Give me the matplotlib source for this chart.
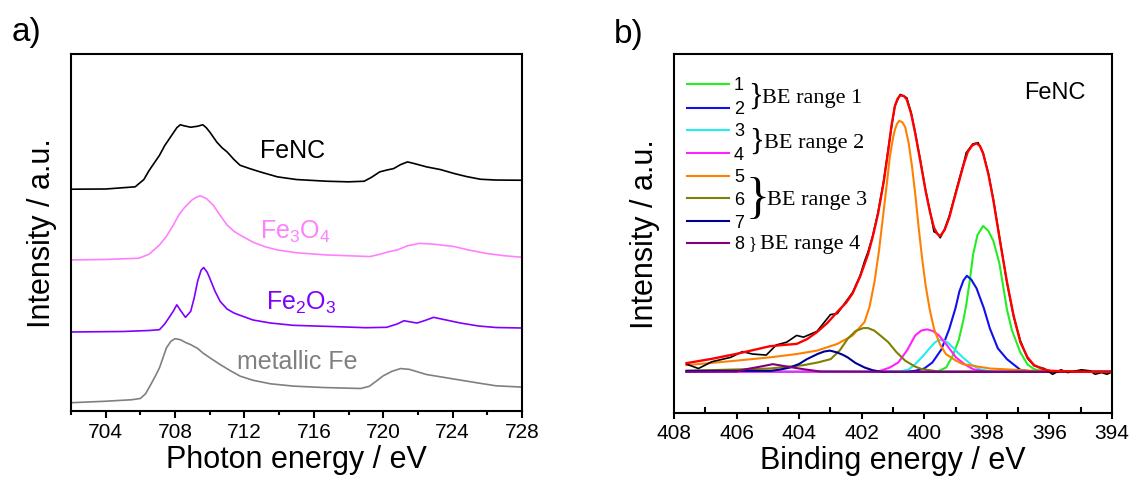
import matplotlib
matplotlib.use('Agg')
import matplotlib.pyplot as plt
from matplotlib.ticker import MultipleLocator

plt.rcParams['font.family'] = ['Liberation Sans', 'DejaVu Sans']
plt.rcParams['mathtext.fontset'] = 'custom'
plt.rcParams['mathtext.rm'] = 'Liberation Sans'

W, H = 1137, 481

# ---------------- panel a data (Fe L-edge spectra, offset stacked) ----------------
fenc_e = [702.0, 704.0, 705.7, 706.2, 706.5, 707.1, 707.4, 707.8, 708.1, 708.3, 708.5, 708.9,
          709.3, 709.6, 709.8, 710.0, 710.4, 710.7, 711.0, 711.4, 711.75, 712.3, 712.9, 713.9,
          715.0, 716.75, 718.0, 718.9, 719.3, 719.8, 720.2, 720.6, 721.0, 721.4, 721.8, 722.5,
          723.3, 724.1, 724.8, 725.6, 726.5, 728.0]
fenc_i = [219.3, 219.5, 221.7, 229.0, 238.0, 253.3, 263.0, 273.3, 281.0, 284.0, 283.0, 281.5,
          282.5, 284.0, 281.0, 276.7, 266.7, 261.0, 256.7, 249.0, 243.3, 240.0, 236.7, 231.7,
          229.0, 227.3, 226.7, 227.3, 231.0, 236.7, 238.5, 240.0, 244.0, 246.7, 245.0, 241.7,
          239.0, 235.0, 232.0, 229.3, 228.5, 228.3]

fe3o4_e = [702.0, 704.0, 705.9, 706.5, 707.1, 707.5, 707.9, 708.2, 708.5, 708.96, 709.2, 709.45,
           709.8, 710.2, 710.6, 711.0, 711.4, 711.75, 712.5, 713.2, 713.9, 715.0, 716.75, 718.0,
           719.25, 719.8, 720.3, 720.8, 721.4, 722.1, 723.0, 724.1, 725.0, 726.0, 727.0, 728.0]
fe3o4_i = [148.3, 148.8, 150.0, 154.0, 163.3, 172.0, 183.3, 193.0, 200.0, 208.3, 211.0, 212.7,
           210.0, 203.3, 193.0, 183.3, 177.0, 173.3, 166.0, 161.5, 158.3, 155.5, 153.3, 152.5,
           151.7, 154.0, 156.5, 158.3, 162.5, 165.0, 164.0, 161.7, 158.0, 154.7, 152.5, 151.0]

fe2o3_e = [702.0, 705.0, 706.5, 707.1, 707.4, 707.7, 707.9, 708.1, 708.3, 708.6, 708.9, 709.1,
           709.3, 709.5, 709.65, 709.85, 710.0, 710.3, 710.6, 711.0, 711.4, 711.75, 712.5, 713.5,
           714.8, 717.0, 719.0, 720.2, 720.8, 721.2, 721.6, 721.95, 722.4, 722.9, 723.5, 724.45,
           725.5, 726.5, 728.0]
fe2o3_i = [76.0, 76.5, 77.5, 78.3, 84.0, 91.7, 97.0, 103.3, 98.0, 90.7, 96.7, 110.0,
           127.0, 138.0, 140.7, 136.0, 130.0, 117.0, 106.7, 99.0, 95.0, 92.7, 88.0, 85.0,
           82.7, 81.5, 80.3, 80.7, 84.0, 87.3, 86.0, 85.0, 87.5, 90.7, 88.5, 85.0,
           82.0, 80.5, 80.0]

fe_e = [702.0, 704.0, 705.5, 706.0, 706.3, 706.6, 706.9, 707.1, 707.3, 707.5, 707.75, 708.0,
        708.3, 708.6, 708.9, 709.3, 709.6, 710.1, 710.6, 711.2, 711.75, 712.5, 713.5, 714.8,
        716.5, 718.2, 718.7, 719.2, 719.6, 720.0, 720.5, 721.0, 721.5, 722.5, 724.0, 725.4,
        726.5, 728.0]
fe_i = [5.0, 6.5, 8.0, 9.3, 14.0, 23.3, 33.0, 40.0, 50.0, 60.0, 66.5, 69.3,
        68.3, 65.5, 63.3, 59.5, 55.0, 49.0, 43.3, 37.0, 31.7, 27.5, 24.0, 21.7,
        20.3, 19.5, 19.3, 21.5, 26.7, 32.0, 36.5, 39.3, 38.5, 33.3, 29.0, 25.0,
        22.0, 20.7]

# ---------------- panel b data (N 1s XPS of FeNC) ----------------
raw_e = [407.6, 407.22, 406.79, 406.19, 405.81, 405.49, 405.05, 404.73, 404.4, 404.08, 403.86,
         403.43, 403.0, 402.78, 402.29, 402.05, 401.91, 401.8, 401.65, 401.48, 401.3, 401.15,
         400.94, 400.77, 400.56, 400.42, 400.29, 400.12, 399.96, 399.82, 399.69, 399.58, 399.49,
         399.35, 399.2, 399.05, 398.88, 398.74, 398.66, 398.45, 398.28, 398.12, 397.95, 397.79,
         397.58, 397.36, 397.15, 396.93, 396.7, 396.49, 396.17, 395.9, 395.63, 395.41, 394.98,
         394.7, 394.54, 394.33, 394.16, 394.0]
raw_i = [48.3, 44.0, 50.7, 55.0, 60.7, 58.3, 57.3, 67.3, 70.0, 76.7, 75.0,
         80.7, 97.3, 98.3, 119.3, 136.0, 150.0, 159.3, 175.0, 198.3, 229.0, 261.7,
         304.0, 315.0, 311.7, 297.0, 277.3, 249.0, 220.7, 200.0, 179.3, 177.5, 173.3,
         182.0, 195.0, 212.0, 231.7, 247.0, 257.3, 266.0, 267.3, 257.3, 237.0, 210.7,
         171.0, 129.3, 96.0, 71.7, 54.0, 46.7, 44.0, 38.3, 42.7, 40.0, 42.7,
         41.7, 38.3, 40.0, 38.3, 40.7]

fit_e = [407.6, 406.8, 406.03, 405.5, 404.94, 404.5, 404.08, 403.75, 403.43, 403.1, 402.78,
         402.5, 402.29, 402.05, 401.8, 401.65, 401.48, 401.3, 401.15, 401.05, 400.94, 400.85,
         400.77, 400.65, 400.56, 400.42, 400.29, 400.12, 399.96, 399.82, 399.69, 399.58, 399.49,
         399.35, 399.2, 399.05, 398.88, 398.74, 398.61, 398.47, 398.33, 398.22, 398.12, 397.95,
         397.79, 397.58, 397.36, 397.15, 396.93, 396.7, 396.49, 396.2, 395.95, 395.0, 394.0]
fit_i = [49.3, 53.5, 58.3, 62.0, 66.0, 67.3, 68.3, 73.0, 80.0, 89.0, 100.0,
         109.0, 118.3, 135.0, 156.7, 174.0, 196.7, 228.0, 260.0, 284.0, 303.3, 311.0,
         314.0, 313.5, 310.0, 296.0, 276.7, 248.0, 220.0, 199.0, 183.3, 177.0, 175.0,
         181.0, 193.3, 211.0, 230.0, 246.0, 258.3, 264.5, 266.7, 264.0, 256.7, 236.0,
         210.0, 170.0, 130.0, 97.0, 70.0, 55.0, 47.3, 43.3, 41.7, 40.8, 40.7]

c1_e = [407.6, 399.6, 399.3, 399.09, 398.9, 398.75, 398.66, 398.55, 398.44, 398.3, 398.12,
        397.95, 397.79, 397.6, 397.45, 397.36, 397.2, 396.93, 396.7, 396.49, 396.06, 394.0]
c1_i = [40.7, 40.7, 45.0, 56.7, 72.0, 92.0, 106.7, 130.0, 156.7, 176.0, 185.0,
        180.0, 170.0, 148.0, 120.0, 102.7, 82.0, 60.0, 48.0, 43.3, 40.7, 40.7]

c2_e = [407.6, 400.6, 400.29, 400.0, 399.74, 399.45, 399.2, 399.0, 398.88, 398.75, 398.64,
        398.5, 398.33, 398.1, 397.9, 397.65, 397.36, 396.93, 396.49, 394.0]
c2_i = [40.7, 40.7, 41.7, 44.0, 50.0, 63.0, 83.3, 104.0, 120.0, 131.0, 135.7,
        132.0, 123.3, 104.0, 83.3, 64.0, 53.3, 42.7, 40.7, 40.7]

c3_e = [407.6, 400.83, 400.5, 400.29, 400.05, 399.85, 399.65, 399.53, 399.35, 399.2, 399.0,
        398.77, 398.5, 398.23, 397.9, 397.68, 394.0]
c3_i = [40.7, 40.7, 43.0, 48.3, 56.0, 63.3, 70.0, 72.3, 71.5, 68.3, 62.0,
        55.0, 48.0, 43.3, 41.2, 40.7, 40.7]

c4_e = [407.6, 401.5, 401.1, 400.83, 400.55, 400.29, 400.1, 399.91, 399.72, 399.53, 399.25,
        398.99, 398.7, 398.44, 398.1, 397.9, 394.0]
c4_i = [40.7, 40.7, 45.0, 50.0, 62.0, 76.7, 81.5, 82.7, 81.0, 76.7, 66.0,
        55.0, 48.0, 43.3, 41.3, 40.7, 40.7]

c5_e = [407.6, 406.03, 404.94, 404.08, 403.43, 402.78, 402.29, 401.91, 401.75, 401.59, 401.45,
        401.31, 401.2, 401.1, 401.0, 400.94, 400.87, 400.8, 400.7, 400.61, 400.5, 400.39,
        400.28, 400.18, 400.07, 399.96, 399.83, 399.69, 399.5, 399.31, 399.0, 398.77, 397.9,
        396.49, 394.0]
c5_i = [47.3, 51.7, 55.0, 58.3, 61.7, 68.3, 76.7, 90.0, 105.0, 130.0, 160.0,
        196.7, 226.0, 253.3, 272.0, 280.0, 286.0, 289.0, 287.5, 282.7, 267.0, 243.3,
        214.0, 183.3, 153.0, 126.7, 103.0, 83.3, 68.0, 58.3, 52.0, 48.3, 44.0,
        41.7, 40.7]

c6_e = [407.6, 404.94, 403.86, 403.4, 402.99, 402.7, 402.45, 402.2, 401.95, 401.8, 401.6,
        401.38, 401.15, 400.9, 400.61, 400.3, 400.07, 399.53, 394.0]
c6_i = [41.7, 44.0, 47.3, 50.0, 53.3, 62.0, 73.3, 81.0, 84.0, 84.0, 81.5,
        76.0, 70.0, 60.5, 51.7, 46.0, 43.3, 41.0, 40.7]

c7_e = [407.6, 404.9, 404.6, 404.29, 404.0, 403.75, 403.4, 403.2, 403.02, 402.8, 402.6,
        402.45, 402.2, 401.91, 401.65, 401.37, 394.0]
c7_i = [41.7, 41.7, 43.0, 45.0, 48.5, 53.3, 58.5, 60.8, 61.7, 60.0, 57.5,
        55.0, 49.5, 45.0, 42.3, 40.7, 40.7]

c8_e = [407.6, 406.0, 405.7, 405.27, 404.84, 404.4, 403.86, 403.32, 400.0, 394.0]
c8_i = [40.7, 41.0, 43.3, 45.7, 48.3, 46.0, 43.3, 41.0, 40.7, 40.7]

comp_names = ['1', '2', '3', '4', '5', '6', '7', '8']
comp_colors = ['#22ee22', '#1010ee', '#22eeee', '#ff22ff', '#ff8000', '#808000', '#000090', '#800080']
comp_e = [c1_e, c2_e, c3_e, c4_e, c5_e, c6_e, c7_e, c8_e]
comp_i = [c1_i, c2_i, c3_i, c4_i, c5_i, c6_i, c7_i, c8_i]
range_labels = ['BE range 1', 'BE range 2', 'BE range 3', 'BE range 4']


def fx(px):
    return px / W


def fy(py):
    return 1 - py / H


fig = plt.figure(figsize=(W / 100, H / 100), dpi=100)

# ---------------- panel a ----------------
axa = fig.add_axes([fx(71), fy(412), fx(522) - fx(71), fy(55) - fy(412)])
axa.plot(fenc_e, fenc_i, color='black', lw=1.2)
axa.plot(fe3o4_e, fe3o4_i, color='#ff80ff', lw=1.2)
axa.plot(fe2o3_e, fe2o3_i, color='#8000ff', lw=1.2)
axa.plot(fe_e, fe_i, color='#808080', lw=1.2)
axa.set_xlim(702, 728)
axa.set_ylim(-3.3, 355)
axa.set_yticks([])
axa.xaxis.set_major_locator(MultipleLocator(4))
axa.xaxis.set_minor_locator(MultipleLocator(2))
axa.tick_params(axis='x', which='major', direction='out', length=5, width=1.5, labelsize=15, pad=3)
axa.tick_params(axis='x', which='minor', direction='out', length=3, width=1.5)
for s in axa.spines.values():
    s.set_linewidth(1.5)
axa.set_xlabel('Photon energy / eV', fontsize=22, labelpad=2)
axa.set_ylabel('Intensity / a.u.', fontsize=22, labelpad=10)

fig.text(fx(293), fy(151), 'FeNC', fontsize=18, color='black', ha='center', va='center')
fig.text(fx(295), fy(232), r'Fe$_\mathregular{3}$O$_\mathregular{4}$', fontsize=18,
         color='#ff80ff', ha='center', va='center')
fig.text(fx(301), fy(303), r'Fe$_\mathregular{2}$O$_\mathregular{3}$', fontsize=18,
         color='#8000ff', ha='center', va='center')
fig.text(fx(297), fy(362), 'metallic Fe', fontsize=18, color='#808080', ha='center', va='center')
fig.text(fx(12), fy(33), 'a)', fontsize=24, ha='left', va='center')

# ---------------- panel b ----------------
axb = fig.add_axes([fx(674), fy(414), fx(1112) - fx(674), fy(55) - fy(414)])
for e, i, c in zip(comp_e, comp_i, comp_colors):
    axb.plot(e, i, color=c, lw=1.5)
axb.plot(raw_e, raw_i, color='black', lw=1.2)
axb.plot(fit_e, fit_i, color='#ff0000', lw=1.7)
axb.set_xlim(408, 394)
axb.set_ylim(0, 355)
axb.set_yticks([])
axb.xaxis.set_major_locator(MultipleLocator(2))
axb.xaxis.set_minor_locator(MultipleLocator(1))
axb.tick_params(axis='x', which='major', direction='out', length=4, width=1.5, labelsize=15, pad=3)
axb.tick_params(axis='x', which='minor', direction='in', length=4, width=1.5)
for s in axb.spines.values():
    s.set_linewidth(1.5)
axb.set_xlabel('Binding energy / eV', fontsize=22, labelpad=2)
axb.set_ylabel('Intensity / a.u.', fontsize=22, labelpad=10)
fig.text(fx(1055), fy(93), 'FeNC', fontsize=17, ha='center', va='center')
fig.text(fx(614), fy(34), 'b)', fontsize=24, ha='left', va='center')

# hand-made legend with braces
leg_y = [85, 109, 131, 154, 176.7, 199.3, 222.3, 244]
for name, c, ly in zip(comp_names, comp_colors, leg_y):
    fig.add_artist(plt.Line2D([fx(687), fx(729)], [fy(ly), fy(ly)], color=c, lw=1.5))
    fig.text(fx(734), fy(ly + 1), name, fontsize=13, ha='left', va='center')

serif = ['Liberation Serif', 'DejaVu Serif']
brace_specs = [(756, 97, 22), (757, 142.5, 22), (758, 199.3, 36), (752, 244, 12)]
text_x = [762, 764, 767, 760]
for (bx, by, bs), tx, lab in zip(brace_specs, text_x, range_labels):
    fig.text(fx(bx), fy(by), '}', fontsize=bs, family=serif, ha='center', va='center')
    fig.text(fx(tx), fy(by + 1), lab, fontsize=16, family=serif, ha='left', va='center')

fig.savefig('out.png', dpi=100)
